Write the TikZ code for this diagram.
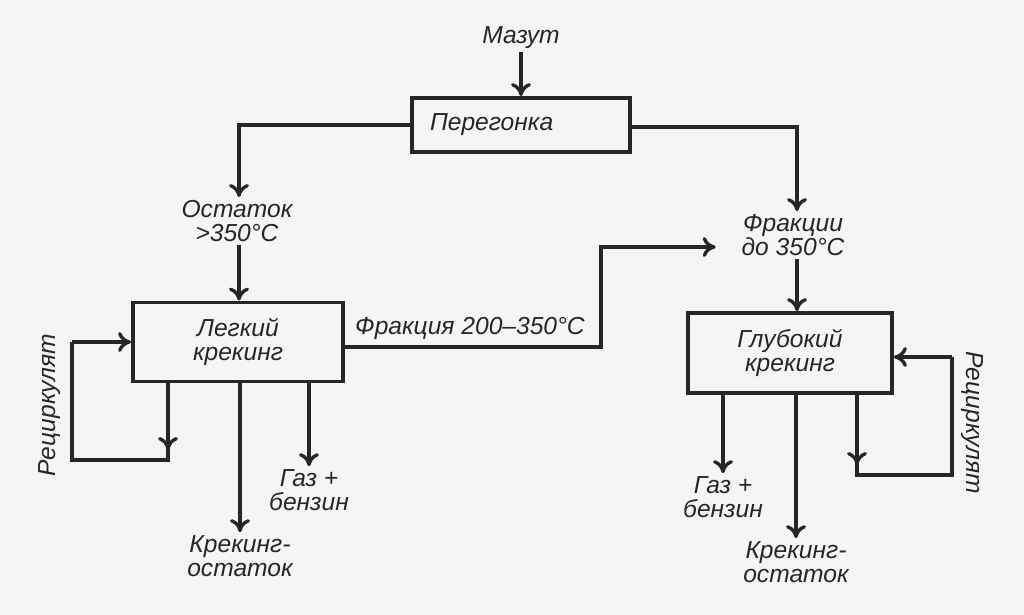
\documentclass[tikz,border=0pt]{standalone}
\usepackage{fontspec}
\setmainfont{Liberation Sans}
\usetikzlibrary{arrows.meta}
\tikzset{
	flow/.style={-{To[length=2.6mm,width=4mm]}},
	unit/.style={draw, line width=2.2pt, inner sep=1pt, align=center},
	lbl/.style={align=center, inner sep=1pt, font=\itshape\fontsize{14}{13.5}\selectfont}
}

\begin{document}
\begin{tikzpicture}[x=0.02cm, y=-0.02cm, line width=1.9pt, color=black!85]
			%%%%% START %%%%%
			
			\fill[black!4] (0,0) rectangle (1024,615);
			\useasboundingbox (0,0) rectangle (1024,615);
			
			\node[lbl] (mazut) at (521,38) {Мазут};
			\node[unit, lbl, minimum width=4.36cm, minimum height=1.08cm, text width=3.64cm, align=left] (peregon) at (521,125) {Перегонка};
			\draw[flow] (mazut) -- (peregon);
			
			\coordinate (pl) at (239,125);
			\coordinate (pr) at (797,127);
			
			\node[lbl] (ostatok) at (237,221) {Остаток\\>350°C};
			\node[lbl] (frakcii) at (793,235) {Фракции\\до 350°C};
			\draw[flow] (peregon.west |- pl) -- (pl) -- (pl |- ostatok.north);
			\draw[flow] (peregon.east |- pr) -- (pr) -- (pr |- frakcii.north);
			
			\node[unit, lbl, minimum width=4.2cm, minimum height=1.58cm] (legkiy) at (238,342) {Легкий\\крекинг};
			\node[unit, lbl, minimum width=4.08cm, minimum height=1.6cm] (glubok) at (790,353) {Глубокий\\крекинг};
			\draw[flow] (ostatok.south -| pl) -- (legkiy.north -| pl);
			\draw[flow] (frakcii.south -| pr) -- (glubok.north -| pr);
			
			% light cracking -> deep cracking
			\coordinate (fa) at (601,347);
			\coordinate (fb) at (601,247);
			\node[lbl] (frak200) at (470,328) {Фракция 200–350°C};
			\draw[flow] (legkiy.east |- fa) -- (fa) -- (fb) -- ([xshift=-0.45cm]frakcii.west |- fb);
			
			% outlets, light cracking
			\node[lbl] (gazL) at (309,490) {Газ +\\бензин};
			\node[lbl] (ostL) at (240,556) {Крекинг-\\остаток};
			\draw[flow] (legkiy.south -| gazL) -- (gazL.north);
			\draw[flow] (legkiy.south -| ostL) -- (ostL.north);
			
			\coordinate (lrA) at (168,460);
			\coordinate (lrB) at (72,460);
			\coordinate (lrC) at (72,342);
			\draw (legkiy.south -| lrA) -- (lrA) -- (lrB) -- (lrC);
			\draw[flow] (legkiy.south -| lrA) -- ([yshift=0.2cm]lrA);
			\draw[flow] (lrC) -- (lrC -| legkiy.west);
			\node[lbl, rotate=90] (recL) at (50,405) {Рециркулят};
			
			% outlets, deep cracking
			\node[lbl] (gazR) at (723,497) {Газ +\\бензин};
			\node[lbl] (ostR) at (796,562) {Крекинг-\\остаток};
			\draw[flow] (glubok.south -| gazR) -- (gazR.north);
			\draw[flow] (glubok.south -| ostR) -- (ostR.north);
			
			\coordinate (rrA) at (857,475);
			\coordinate (rrB) at (952,475);
			\coordinate (rrC) at (952,357);
			\draw (glubok.south -| rrA) -- (rrA) -- (rrB) -- (rrC);
			\draw[flow] (glubok.south -| rrA) -- ([yshift=0.2cm]rrA);
			\draw[flow] (rrC) -- (rrC -| glubok.east);
			\node[lbl, rotate=-90] (recR) at (972,423) {Рециркулят};
			
			%%%%% END %%%%%
\end{tikzpicture}
\end{document}
